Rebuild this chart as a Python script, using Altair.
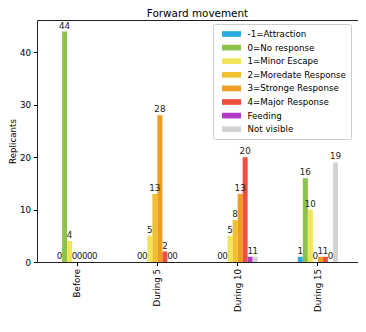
import altair as alt
import pandas as pd

groups = ["Before", "During 5", "During 10", "During 15"]
categories = ["-1=Attraction", "\u00a00=No response", "\u00a01=Minor Escape",
              "\u00a02=Moredate Response", "\u00a03=Stronge Response",
              "\u00a04=Major Response", "Feeding", "Not visible"]
colors = ["#29abe2", "#8bc34a", "#f2e55c", "#f0c030", "#f09c20", "#ee5040", "#b03cc8", "#d3d3d3"]

vals_attraction = [0, 0, 0, 1]
vals_noresp = [44, 0, 0, 16]
vals_minor = [4, 5, 5, 10]
vals_moderate = [0, 13, 8, 0]
vals_strong = [0, 28, 13, 1]
vals_major = [0, 2, 20, 1]
vals_feeding = [0, 0, 1, 0]
vals_notvisible = [0, 0, 1, 19]

series = [vals_attraction, vals_noresp, vals_minor, vals_moderate,
          vals_strong, vals_major, vals_feeding, vals_notvisible]

rows = []
for ci, (cat, vals) in enumerate(zip(categories, series)):
    for g, v in zip(groups, vals):
        rows.append({"group": g, "cat": cat, "order": ci, "value": v})
df = pd.DataFrame(rows)

font = "DejaVu Sans"
fs = 8.7

x = alt.X("group:N", sort=groups, title=None,
          scale=alt.Scale(paddingInner=0.5, paddingOuter=0.25),
          axis=alt.Axis(labelAngle=-90, labelFontSize=fs, labelFont=font,
                        labelColor="black", tickColor="black", domain=False,
                        tickSize=3.5, labelPadding=3, labelBaseline="middle", labelAlign="right"))
xo = alt.XOffset("cat:N", sort=categories, scale=alt.Scale(domain=categories, paddingInner=0))
y = alt.Y("value:Q", title="Replicants",
          scale=alt.Scale(domain=[0, 46.2], nice=False),
          axis=alt.Axis(values=[0, 10, 20, 30, 40], grid=False, domain=False,
                        labelFontSize=fs, labelFont=font, labelColor="black",
                        tickColor="black", tickSize=3.5, labelPadding=3,
                        titleFont=font, titleFontSize=fs, titleFontWeight="normal",
                        titleColor="black", titlePadding=2))

color = alt.Color("cat:N", scale=alt.Scale(domain=categories, range=colors),
                  legend=alt.Legend(title=None, orient="none", legendX=176, legendY=4,
                                    symbolType="M-2,-0.6H2V0.6H-2Z", symbolSize=90,
                                    symbolStrokeWidth=0, labelFont=font, labelFontSize=fs,
                                    labelColor="black", rowPadding=3.6, padding=5,
                                    symbolOffset=8.5,
                                    fillColor="white", strokeColor="#cccccc",
                                    cornerRadius=2, labelOffset=11, labelLimit=300))

bars = alt.Chart(df).mark_bar(stroke=None).encode(x=x, xOffset=xo, y=y, color=color)
labels = alt.Chart(df).mark_text(baseline="bottom", dy=-1, fontSize=fs, font=font,
                                 color="#222222").encode(
    x=x, xOffset=xo, y=y, text=alt.Text("value:Q"))

chart = alt.layer(bars, labels).properties(
    width=321, height=242,
    title=alt.Title("Forward movement", font=font, fontSize=10.4, fontWeight="normal",
                    color="black", offset=1),
    autosize=alt.AutoSizeParams(type="none"),
    padding={"left": 29, "top": 12, "right": 0, "bottom": 56},
).configure(background="white").configure_view(stroke="#222222", strokeWidth=1)

chart.save("out.html", embed_options={"renderer": "svg", "actions": False})
